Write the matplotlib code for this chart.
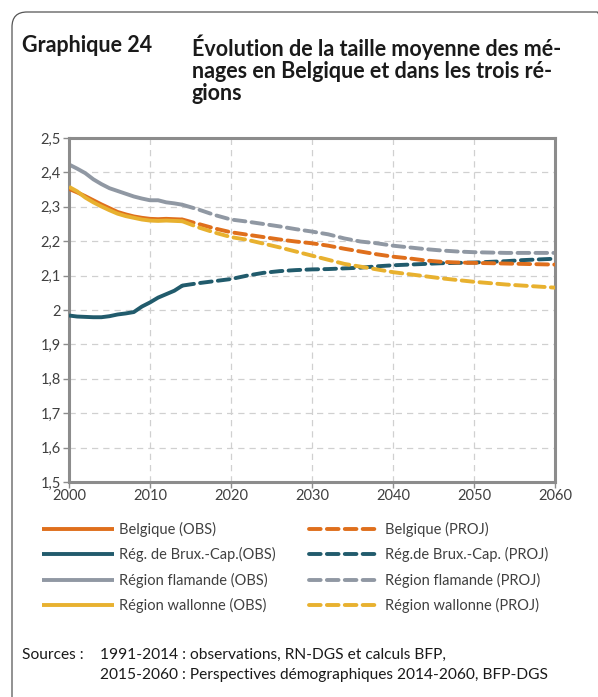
import matplotlib
matplotlib.use("Agg")
import matplotlib.pyplot as plt
from matplotlib.patches import FancyBboxPatch
from matplotlib.ticker import FuncFormatter

plt.rcParams['font.family'] = ['Lato', 'DejaVu Sans']

# observations 2000-2014
annees_obs = list(range(2000, 2015))
bel_obs = [2.352, 2.342, 2.331, 2.319, 2.307, 2.296, 2.285, 2.278, 2.272, 2.268, 2.265, 2.264, 2.265, 2.264, 2.263]
bxl_obs = [1.984, 1.981, 1.980, 1.979, 1.979, 1.982, 1.987, 1.990, 1.994, 2.010, 2.022, 2.036, 2.046, 2.056, 2.071]
vla_obs = [2.423, 2.411, 2.398, 2.380, 2.366, 2.354, 2.346, 2.338, 2.330, 2.324, 2.319, 2.319, 2.313, 2.310, 2.306]
wal_obs = [2.358, 2.345, 2.327, 2.313, 2.301, 2.290, 2.280, 2.273, 2.268, 2.263, 2.260, 2.259, 2.260, 2.259, 2.258]

# projections 2014-2060
annees_proj = list(range(2014, 2061, 2))
bel_proj = [2.263, 2.250, 2.237, 2.226, 2.219, 2.212, 2.205, 2.199, 2.194, 2.187, 2.178, 2.170,
            2.162, 2.155, 2.150, 2.144, 2.140, 2.138, 2.137, 2.136, 2.135, 2.134, 2.133, 2.132]
bxl_proj = [2.071, 2.078, 2.084, 2.090, 2.100, 2.108, 2.113, 2.116, 2.118, 2.119, 2.121, 2.123,
            2.127, 2.130, 2.132, 2.134, 2.136, 2.137, 2.138, 2.140, 2.142, 2.145, 2.147, 2.149]
vla_proj = [2.306, 2.292, 2.276, 2.263, 2.257, 2.250, 2.243, 2.235, 2.228, 2.220, 2.208, 2.199,
            2.194, 2.187, 2.182, 2.177, 2.173, 2.170, 2.168, 2.167, 2.166, 2.166, 2.166, 2.166]
wal_proj = [2.258, 2.240, 2.225, 2.212, 2.204, 2.193, 2.182, 2.170, 2.158, 2.146, 2.134, 2.126,
            2.118, 2.110, 2.104, 2.098, 2.092, 2.087, 2.082, 2.078, 2.074, 2.071, 2.068, 2.065]

noms_obs = ["Belgique (OBS)", "Rég. de Brux.-Cap.(OBS)", "Région flamande (OBS)", "Région wallonne (OBS)"]
noms_proj = ["Belgique (PROJ)", "Rég.de Brux.-Cap. (PROJ)", "Région flamande (PROJ)", "Région wallonne (PROJ)"]
couleurs = ["#DF6F1C", "#215B6C", "#9098A3", "#E8B12F"]

fig = plt.figure(figsize=(5.98, 6.97), dpi=100)

# cadre arrondi (depasse a droite et en bas)
cadre = FancyBboxPatch((0.12, -0.5), 6.0, 7.35, boxstyle="round,pad=0,rounding_size=0.15",
                       transform=fig.dpi_scale_trans, facecolor="none", edgecolor="#555555",
                       linewidth=0.9, clip_on=False)
fig.patches.append(cadre)

fig.text(22 / 598, 1 - 35 / 697, "Graphique 24", fontsize=15.5, fontweight="bold", va="top", ha="left", color="#1a1a1a")
fig.text(192 / 598, 1 - 35 / 697,
         "Évolution de la taille moyenne des mé-\nnages en Belgique et dans les trois ré-\ngions",
         fontsize=15.5, fontweight="bold", va="top", ha="left", color="#1a1a1a", linespacing=1.05)

ax = fig.add_axes([69 / 598, 1 - 482 / 697, (555 - 69) / 598, (482 - 138) / 697])

obs = [bel_obs, bxl_obs, vla_obs, wal_obs]
proj = [bel_proj, bxl_proj, vla_proj, wal_proj]
handles_obs = []
handles_proj = []
for i in range(4):
    # wallonne au-dessus de belgique, flamande derriere
    z = {0: 4, 1: 3, 2: 2, 3: 5}[i]
    l1, = ax.plot(annees_obs, obs[i], color=couleurs[i], lw=2.8, solid_capstyle="butt", zorder=z)
    l2, = ax.plot(annees_proj, proj[i], color=couleurs[i], lw=2.8, linestyle=(0, (3.0, 1.6)),
                  dash_capstyle="round", zorder=z)
    handles_obs.append(l1)
    handles_proj.append(l2)

ax.set_xlim(2000, 2060)
ax.set_ylim(1.5, 2.5)
ax.set_xticks(range(2000, 2061, 10))
ax.set_yticks([1.5 + 0.1 * k for k in range(11)])
ax.yaxis.set_major_formatter(FuncFormatter(lambda v, p: ("%.1f" % v).rstrip("0").rstrip(".").replace(".", ",")))
ax.grid(True, color="#d0d0d0", linestyle=(0, (5, 4)), linewidth=0.9)
ax.set_axisbelow(True)
for s in ax.spines.values():
    s.set_color("#8c8c8c")
    s.set_linewidth(2.2)
ax.tick_params(axis="both", colors="#8c8c8c", labelcolor="#404040", labelsize=10.5, length=4, width=1)
ax.tick_params(axis="x", pad=1)
ax.tick_params(axis="y", pad=2)

fig.legend(handles_obs + handles_proj, noms_obs + noms_proj, ncol=2, frameon=False,
           loc="upper left", bbox_to_anchor=(29 / 598, 1 - 509 / 697),
           fontsize=10.5, handlelength=4.9, handletextpad=0.35, columnspacing=2.3,
           labelspacing=0.7, labelcolor="#404040")

fig.text(22 / 598, 1 - 655 / 697, "Sources :", fontsize=11.2, va="center", ha="left", color="#1a1a1a")
fig.text(100 / 598, 1 - 655 / 697, "1991-2014 : observations, RN-DGS et calculs BFP,",
         fontsize=11.2, va="center", ha="left", color="#1a1a1a")
fig.text(100 / 598, 1 - 675 / 697, "2015-2060 : Perspectives démographiques 2014-2060, BFP-DGS",
         fontsize=11.2, va="center", ha="left", color="#1a1a1a")

fig.savefig("out.png", dpi=100)
